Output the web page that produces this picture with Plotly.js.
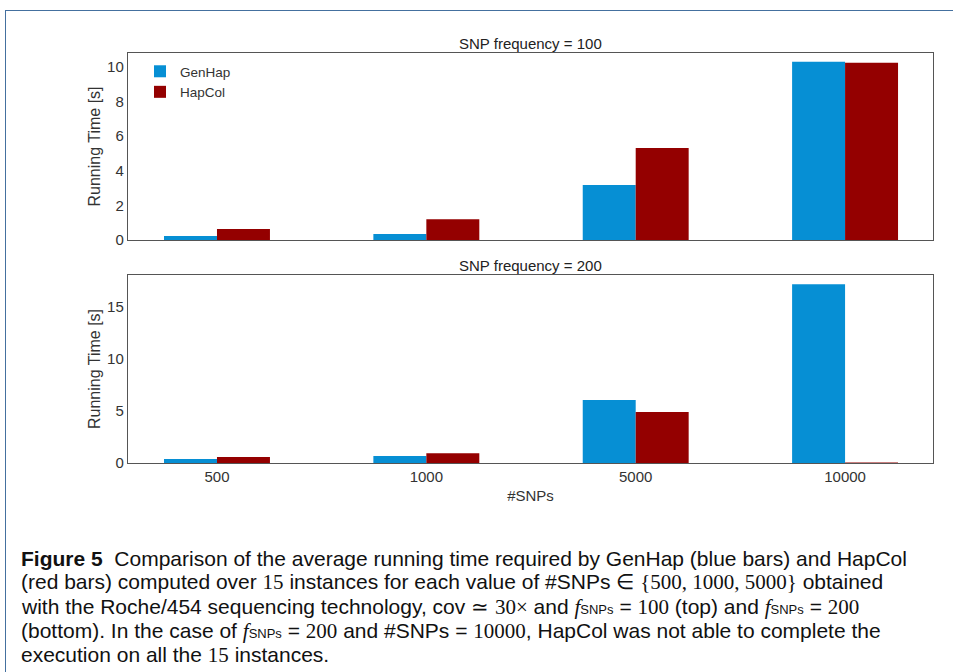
<!DOCTYPE html>
<html><head><meta charset="utf-8">
<script src="https://cdn.plot.ly/plotly-3.0.1.min.js"></script>
<style>
html,body{margin:0;padding:0;background:#fff;}
#frame{position:absolute;left:5px;top:10px;width:960px;height:680px;border-top:1.5px solid #44709f;border-left:1.5px solid #44709f;}
#plot{position:absolute;left:0;top:0;width:953px;height:672px;}
</style></head>
<body>
<div id="frame"></div>
<div id="plot"></div>
<script>
const categories = ["500", "1000", "5000", "10000"];
const genhap100 = [0.23, 0.35, 3.18, 10.29];
const hapcol100 = [0.64, 1.2, 5.32, 10.23];
const genhap200 = [0.38, 0.67, 6.06, 17.2];
const hapcol200 = [0.58, 0.95, 4.9, 0.06];
const seriesNames = ["GenHap", "HapCol"];
const colors = ["#068fd4", "#940000"];
const yTicks100 = [0, 2, 4, 6, 8, 10];
const yTicks200 = [0, 5, 10, 15];
const S = s => "<span style='font-family:Liberation Serif'>" + s + "</span>";
const F = "<span style='font-family:Liberation Serif'><i>f</i></span><span style='font-size:13px'>SNPs</span>";
const captionLines = [
  "<b>Figure 5</b>  Comparison of the average running time required by GenHap (blue bars) and HapCol",
  "(red bars) computed over " + S("15") + " instances for each value of #SNPs ∈ " + S("{500, 1000, 5000}") + " obtained",
  "with the Roche/454 sequencing technology, cov ≃ " + S("30×") + " and " + F + " = " + S("100") + " (top) and " + F + " = " + S("200"),
  "(bottom). In the case of " + F + " = " + S("200") + " and #SNPs = " + S("10000") + ", HapCol was not able to complete the",
  "execution on all the " + S("15") + " instances."
];

const W = 953, H = 672;
const py = v => 1 - v / H;
const FONT = 'Arial';

const traces = [
  {x: categories, y: genhap100, name: seriesNames[0], type: 'bar', marker: {color: colors[0], line: {width: 0}}, xaxis: 'x', yaxis: 'y'},
  {x: categories, y: hapcol100, name: seriesNames[1], type: 'bar', marker: {color: colors[1], line: {width: 0}}, xaxis: 'x', yaxis: 'y'},
  {x: categories, y: genhap200, name: seriesNames[0], type: 'bar', marker: {color: colors[0], line: {width: 0}}, xaxis: 'x2', yaxis: 'y2', showlegend: false},
  {x: categories, y: hapcol200, name: seriesNames[1], type: 'bar', marker: {color: colors[1], line: {width: 0}}, xaxis: 'x2', yaxis: 'y2', showlegend: false}
];

const axisCommon = {
  showline: true, mirror: true, linecolor: '#555', linewidth: 1.2,
  showgrid: false, zeroline: false, ticks: '',
  tickfont: {family: FONT, size: 15, color: '#333'}
};

const annotations = [
  {text: 'SNP frequency = 100', xref: 'paper', yref: 'paper', x: 530 / W, y: py(44), xanchor: 'center', yanchor: 'middle', showarrow: false, font: {family: FONT, size: 15, color: '#222'}},
  {text: 'SNP frequency = 200', xref: 'paper', yref: 'paper', x: 530 / W, y: py(266), xanchor: 'center', yanchor: 'middle', showarrow: false, font: {family: FONT, size: 15, color: '#222'}}
];
captionLines.forEach((t, i) => {
  annotations.push({text: t, xref: 'paper', yref: 'paper', x: 19 / W, y: py(558 + i * 24.3), xanchor: 'left', yanchor: 'middle', align: 'left', showarrow: false,
    font: {family: 'Liberation Sans', size: 21, color: '#111'}});
});

const layout = {
  width: W, height: H,
  margin: {l: 0, r: 0, t: 0, b: 0},
  paper_bgcolor: 'rgba(0,0,0,0)', plot_bgcolor: '#fff',
  barmode: 'group', bargap: 0.494, bargroupgap: 0,
  showlegend: true,
  legend: {x: 140 / W, y: py(56), xanchor: 'left', yanchor: 'top', bgcolor: 'rgba(0,0,0,0)',
    font: {family: FONT, size: 13.5, color: '#333'}, tracegroupgap: 0, itemwidth: 30},
  xaxis: Object.assign({}, axisCommon, {domain: [128 / W, 933 / W], range: [-0.425, 3.42], showticklabels: false, anchor: 'y', type: 'category'}),
  yaxis: Object.assign({}, axisCommon, {domain: [py(240), py(53)], range: [0, 10.8], tickvals: yTicks100, anchor: 'x',
    title: {text: 'Running Time [s]', font: {family: FONT, size: 16, color: '#333'}, standoff: 2}}),
  xaxis2: Object.assign({}, axisCommon, {domain: [128 / W, 933 / W], range: [-0.425, 3.42], anchor: 'y2', type: 'category',
    title: {text: '#SNPs', font: {family: FONT, size: 15, color: '#333'}, standoff: 6}}),
  yaxis2: Object.assign({}, axisCommon, {domain: [py(463), py(275)], range: [0, 18.1], tickvals: yTicks200, anchor: 'x2',
    title: {text: 'Running Time [s]', font: {family: FONT, size: 16, color: '#333'}, standoff: 2}}),
  annotations: annotations
};

Plotly.newPlot('plot', traces, layout, {staticPlot: true, displayModeBar: false});
</script>
</body></html>
